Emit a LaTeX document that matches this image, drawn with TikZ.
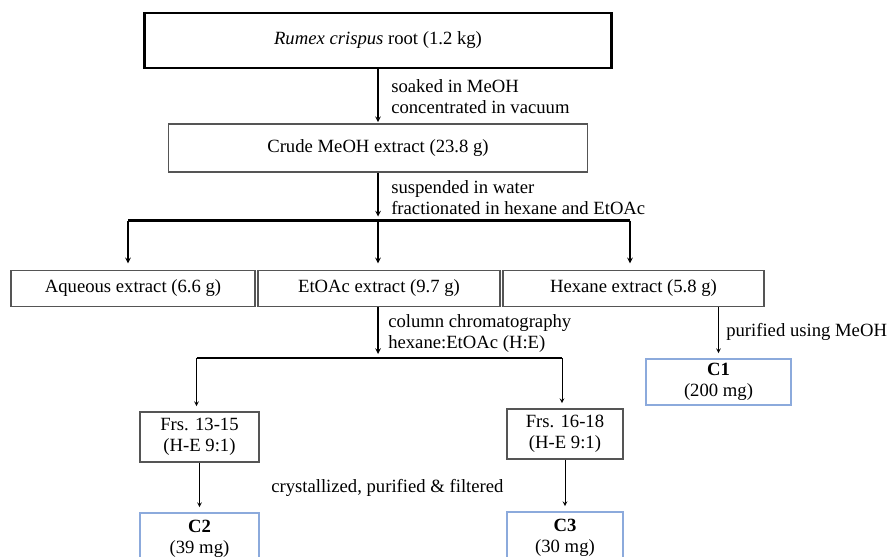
\documentclass[tikz,border=0pt]{standalone}
\usepackage{fontspec}
\setmainfont{Liberation Serif}
\usetikzlibrary{positioning}
\definecolor{boxgray}{RGB}{85,85,85}
\definecolor{cblue}{RGB}{140,170,220}

\begin{document}
\begin{tikzpicture}[x=0.75pt,y=-0.75pt,>=stealth,
		font=\fontsize{14}{16}\selectfont,
		sz/.style 2 args={minimum width=#1*0.75pt,minimum height=#2*0.75pt},
		box/.style={draw=boxgray,line width=0.8pt,align=center,inner sep=0pt},
		cbox/.style={box,draw=cblue},
		lbl/.style={anchor=west,align=left,inner sep=0pt},
		flow/.style={->,line width=0.9pt,shorten >=1pt},
		bar/.style={line width=1.6pt}]
		\useasboundingbox (0,0) rectangle (890,557);
		\clip (0,0) rectangle (890,557);
		% boxes
		\node[box,draw=black,line width=1.8pt,sz={467}{55}] (root) at (378,40.5) {\textit{Rumex crispus} root (1.2 kg)};
		\node[box,sz={419}{48}] (crude) at (378,148) {Crude MeOH extract (23.8 g)};
		\node[box,sz={244}{36}] (aq) at (133,288.5) {Aqueous extract (6.6 g)};
		\node[box,sz={242}{36}] (eto) at (379,288.5) {EtOAc extract (9.7 g)};
		\node[box,sz={261}{36}] (hex) at (633.5,288.5) {Hexane extract (5.8 g)};
		\node[box,sz={119}{50}] (fr1) at (199.5,437) {Frs. 13-15\\(H-E 9:1)};
		\node[box,sz={116}{50}] (fr2) at (565,434) {Frs. 16-18\\(H-E 9:1)};
		\node[cbox,sz={145}{46}] (c1) at (718.5,382) {\textbf{C1}\\(200 mg)};
		\node[cbox,sz={119}{52}] (c2) at (199.5,539) {\textbf{C2}\\(39 mg)};
		\node[cbox,sz={116}{52}] (c3) at (565,538) {\textbf{C3}\\(30 mg)};
		% junctions
		\coordinate (j1) at (378,220.5);
		\coordinate (b1l) at (128,220.5);
		\coordinate (b1r) at (630,220.5);
		\coordinate (j2) at (378,358);
		\coordinate (b2l) at (196.5,358);
		\coordinate (b2r) at (562,358);
		% labels
		\node[lbl] (soak) at (391,96.5) {soaked in MeOH\\concentrated in vacuum};
		\node[lbl] (susp) at (391,197.5) {suspended in water\\fractionated in hexane and EtOAc};
		\node[lbl] (col) at (388,333.5) {column chromatography\\hexane:EtOAc (H:E)};
		\node[lbl] (puri) at (726,332) {purified using MeOH};
		\node[lbl] (cryst) at (271,488) {crystallized, purified \& filtered};
		% connectors
		\draw[flow] (root) -- (crude);
		\draw[flow,shorten >=3pt] (crude) -- (j1);
		\draw[bar] (b1l) -- (b1r);
		\path[flow,shorten >=5pt]
			(b1l) edge (b1l |- aq.north)
			(j1) edge (j1 |- eto.north)
			(b1r) edge (b1r |- hex.north);
		\draw[flow,shorten >=3pt] (j2 |- eto.south) -- (j2);
		\draw[bar,line width=1.2pt] (b2l) -- (b2r);
		\path[flow,line width=0.6pt,shorten >=4pt]
			(b2l) edge (b2l |- fr1.north)
			(b2r) edge (b2r |- fr2.north)
			(c1.north |- hex.south) edge (c1.north)
			(fr1) edge (c2)
			(fr2) edge (c3);
\end{tikzpicture}
\end{document}
